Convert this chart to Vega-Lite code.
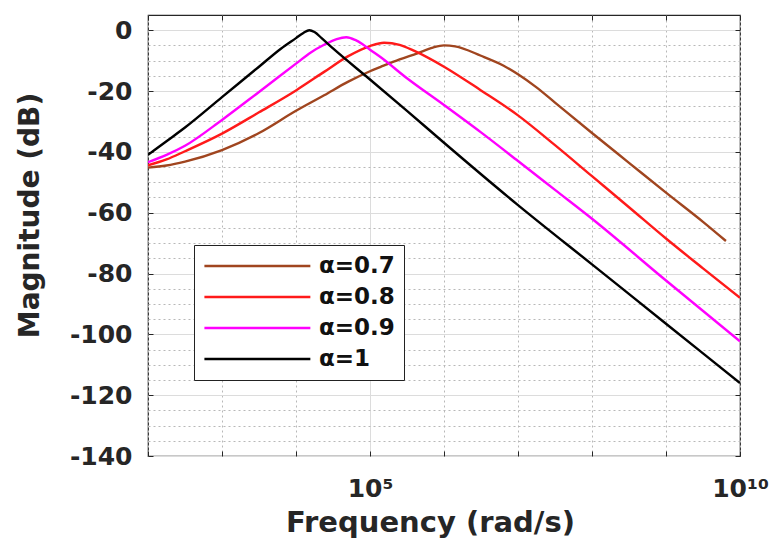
{
  "$schema": "https://vega.github.io/schema/vega-lite/v6.json",
  "width": 592,
  "height": 441,
  "autosize": {"type": "none"},
  "padding": {"left": 148, "top": 15, "right": 39, "bottom": 92},
  "background": "white",
  "config": {
    "view": {"stroke": "#262626", "strokeWidth": 1.2},
    "font": "DejaVu Sans"
  },
  "data": {
    "values": [
      {"a": "α=0.7", "f": 1e2, "db": -45.2},
      {"a": "α=0.7", "f": 1.778e2, "db": -44.5},
      {"a": "α=0.7", "f": 3.162e2, "db": -43.2},
      {"a": "α=0.7", "f": 1e3, "db": -39.4},
      {"a": "α=0.7", "f": 3.162e3, "db": -33.8},
      {"a": "α=0.7", "f": 1e4, "db": -26.5},
      {"a": "α=0.7", "f": 2.399e4, "db": -21.4},
      {"a": "α=0.7", "f": 5.012e4, "db": -17},
      {"a": "α=0.7", "f": 1e5, "db": -13.5},
      {"a": "α=0.7", "f": 1.413e5, "db": -12},
      {"a": "α=0.7", "f": 2.512e5, "db": -9.6},
      {"a": "α=0.7", "f": 4.365e5, "db": -7.6},
      {"a": "α=0.7", "f": 7.079e5, "db": -5.7},
      {"a": "α=0.7", "f": 1e6, "db": -5.0},
      {"a": "α=0.7", "f": 1.413e6, "db": -5.3},
      {"a": "α=0.7", "f": 3.162e6, "db": -8.4},
      {"a": "α=0.7", "f": 6.310e6, "db": -11.6},
      {"a": "α=0.7", "f": 1e7, "db": -14.5},
      {"a": "α=0.7", "f": 1.778e7, "db": -18.8},
      {"a": "α=0.7", "f": 3.162e7, "db": -23.8},
      {"a": "α=0.7", "f": 1e8, "db": -33.8},
      {"a": "α=0.7", "f": 3.162e8, "db": -43.6},
      {"a": "α=0.7", "f": 1e9, "db": -53.4},
      {"a": "α=0.7", "f": 3.162e9, "db": -63},
      {"a": "α=0.7", "f": 6.457e9, "db": -69.3},

      {"a": "α=0.8", "f": 1e2, "db": -44.4},
      {"a": "α=0.8", "f": 1.778e2, "db": -42.5},
      {"a": "α=0.8", "f": 3.162e2, "db": -39.8},
      {"a": "α=0.8", "f": 1e3, "db": -34},
      {"a": "α=0.8", "f": 3.162e3, "db": -27},
      {"a": "α=0.8", "f": 1e4, "db": -19.8},
      {"a": "α=0.8", "f": 2.399e4, "db": -13.7},
      {"a": "α=0.8", "f": 5.012e4, "db": -8.6},
      {"a": "α=0.8", "f": 1e5, "db": -5.2},
      {"a": "α=0.8", "f": 1.549e5, "db": -4.1},
      {"a": "α=0.8", "f": 2.512e5, "db": -4.8},
      {"a": "α=0.8", "f": 3.981e5, "db": -6.8},
      {"a": "α=0.8", "f": 1e6, "db": -12},
      {"a": "α=0.8", "f": 3.162e6, "db": -19.8},
      {"a": "α=0.8", "f": 1e7, "db": -28},
      {"a": "α=0.8", "f": 3.162e7, "db": -37.8},
      {"a": "α=0.8", "f": 1e8, "db": -48},
      {"a": "α=0.8", "f": 3.162e8, "db": -58.2},
      {"a": "α=0.8", "f": 1e9, "db": -68.5},
      {"a": "α=0.8", "f": 3.162e9, "db": -78.3},
      {"a": "α=0.8", "f": 1e10, "db": -88},

      {"a": "α=0.9", "f": 1e2, "db": -43.4},
      {"a": "α=0.9", "f": 1.778e2, "db": -41},
      {"a": "α=0.9", "f": 3.162e2, "db": -38},
      {"a": "α=0.9", "f": 1e3, "db": -29.5},
      {"a": "α=0.9", "f": 3.162e3, "db": -20.3},
      {"a": "α=0.9", "f": 1e4, "db": -11},
      {"a": "α=0.9", "f": 1.585e4, "db": -7.3},
      {"a": "α=0.9", "f": 2.399e4, "db": -4.8},
      {"a": "α=0.9", "f": 3.548e4, "db": -2.9},
      {"a": "α=0.9", "f": 4.786e4, "db": -2.3},
      {"a": "α=0.9", "f": 6.310e4, "db": -3.2},
      {"a": "α=0.9", "f": 7.943e4, "db": -4.6},
      {"a": "α=0.9", "f": 1e5, "db": -6.4},
      {"a": "α=0.9", "f": 1.413e5, "db": -9.0},
      {"a": "α=0.9", "f": 3.162e5, "db": -15.8},
      {"a": "α=0.9", "f": 1e6, "db": -24.6},
      {"a": "α=0.9", "f": 3.162e6, "db": -33.6},
      {"a": "α=0.9", "f": 1e7, "db": -43},
      {"a": "α=0.9", "f": 3.162e7, "db": -52.5},
      {"a": "α=0.9", "f": 1e8, "db": -62},
      {"a": "α=0.9", "f": 1e9, "db": -82.3},
      {"a": "α=0.9", "f": 1e10, "db": -102.3},

      {"a": "α=1", "f": 1e2, "db": -41},
      {"a": "α=1", "f": 1.778e2, "db": -36.5},
      {"a": "α=1", "f": 3.162e2, "db": -32},
      {"a": "α=1", "f": 1e3, "db": -22},
      {"a": "α=1", "f": 3.162e3, "db": -12},
      {"a": "α=1", "f": 6.310e3, "db": -6},
      {"a": "α=1", "f": 1e4, "db": -2.6},
      {"a": "α=1", "f": 1.259e4, "db": -0.9},
      {"a": "α=1", "f": 1.514e4, "db": 0},
      {"a": "α=1", "f": 1.778e4, "db": -0.6},
      {"a": "α=1", "f": 2.239e4, "db": -2.7},
      {"a": "α=1", "f": 3.162e4, "db": -6},
      {"a": "α=1", "f": 1e5, "db": -16.2},
      {"a": "α=1", "f": 3.162e5, "db": -26.5},
      {"a": "α=1", "f": 1e6, "db": -37},
      {"a": "α=1", "f": 1e7, "db": -57.5},
      {"a": "α=1", "f": 1e8, "db": -77},
      {"a": "α=1", "f": 1e9, "db": -96.5},
      {"a": "α=1", "f": 1e10, "db": -116}
    ]
  },
  "layer": [
    {
      "mark": {"type": "line", "strokeWidth": 2.4, "interpolate": "monotone", "clip": true},
      "encoding": {
        "x": {
          "field": "f",
          "type": "quantitative",
          "scale": {"type": "log", "domain": [1e2, 1e10], "nice": false},
          "axis": {
            "orient": "bottom",
            "values": [1e2, 1e3, 1e4, 1e5, 1e6, 1e7, 1e8, 1e9, 1e10],
            "labelExpr": "datum.value == 1e5 ? '10⁵' : datum.value == 1e10 ? '10¹⁰' : ''",
            "labelFont": "DejaVu Sans",
            "labelFontWeight": "bold",
            "labelFontSize": 25,
            "labelColor": "#262626",
            "labelPadding": 25,
            "labelFlush": false,
            "labelBound": false,
            "labelOverlap": false,
            "tickSize": -5,
            "tickColor": "#262626",
            "domain": false,
            "grid": true,
            "gridColor": {"condition": {"test": "datum.value == 1e5", "value": "#dcdcdc"}, "value": "#b8b8b8"},
            "gridDash": {"condition": {"test": "datum.value == 1e5", "value": []}, "value": [2, 3]},
            "gridWidth": 1,
            "title": "Frequency (rad/s)",
            "titleFont": "DejaVu Sans",
            "titleFontWeight": "bold",
            "titleFontSize": 29,
            "titleColor": "#262626",
            "titleX": 282,
            "titleY": 66,
            "titleBaseline": "middle",
            "titleAlign": "center"
          }
        },
        "y": {
          "field": "db",
          "type": "quantitative",
          "scale": {"domain": [-140, 5], "nice": false, "zero": false},
          "axis": {
            "orient": "left",
            "values": [-140, -135, -130, -125, -120, -115, -110, -105, -100, -95, -90, -85, -80, -75, -70, -65, -60, -55, -50, -45, -40, -35, -30, -25, -20, -15, -10, -5, 0],
            "labelExpr": "datum.value % 20 == 0 ? '' + datum.value : ''",
            "labelFont": "DejaVu Sans",
            "labelFontWeight": "bold",
            "labelFontSize": 25,
            "labelColor": "#262626",
            "labelPadding": 21,
            "labelOverlap": false,
            "labelFlush": false,
            "tickSize": -5,
            "tickColor": "#262626",
            "tickOpacity": {"condition": {"test": "datum.value % 20 == 0", "value": 1}, "value": 0},
            "domain": false,
            "grid": true,
            "gridColor": {"condition": {"test": "datum.value % 20 == 0", "value": "#dcdcdc"}, "value": "#b8b8b8"},
            "gridDash": {"condition": {"test": "datum.value % 20 == 0", "value": []}, "value": [2, 3]},
            "gridWidth": 1,
            "title": "Magnitude (dB)",
            "titleFont": "DejaVu Sans",
            "titleFontWeight": "bold",
            "titleFontSize": 28,
            "titleColor": "#262626",
            "titleX": -118,
            "titleY": 200,
            "titleBaseline": "middle",
            "titleAlign": "center",
            "titleAngle": 270
          }
        },
        "color": {
          "field": "a",
          "type": "nominal",
          "scale": {
            "domain": ["α=0.7", "α=0.8", "α=0.9", "α=1"],
            "range": ["#A0451F", "#FF1A1A", "#FF00FF", "#000000"]
          },
          "legend": {
            "orient": "none",
            "legendX": 46,
            "legendY": 230,
            "title": null,
            "symbolType": "M-1,0H9",
            "symbolSize": 449,
            "symbolStrokeWidth": 2.4,
            "labelFont": "DejaVu Sans",
            "labelFontWeight": "bold",
            "labelFontSize": 23,
            "labelColor": "#111111",
            "labelOffset": 92,
            "labelLimit": 300,
            "padding": 9,
            "rowPadding": 7,
            "strokeColor": "#222222",
            "fillColor": "white",
            "cornerRadius": 0
          }
        }
      }
    },
    {
      "mark": {"type": "point", "opacity": 0, "size": 0},
      "encoding": {
        "x": {
          "field": "f",
          "type": "quantitative",
          "axis": {
            "orient": "top",
            "values": [1e2, 1e3, 1e4, 1e5, 1e6, 1e7, 1e8, 1e9, 1e10],
            "labels": false,
            "grid": false,
            "domain": false,
            "tickSize": -5,
            "tickColor": "#262626",
            "title": null
          }
        },
        "y": {
          "field": "db",
          "type": "quantitative",
          "axis": {
            "orient": "right",
            "values": [-140, -120, -100, -80, -60, -40, -20, 0],
            "labels": false,
            "grid": false,
            "domain": false,
            "tickSize": -5,
            "tickColor": "#262626",
            "title": null
          }
        }
      }
    }
  ],
  "resolve": {"axis": {"x": "independent", "y": "independent"}}
}
